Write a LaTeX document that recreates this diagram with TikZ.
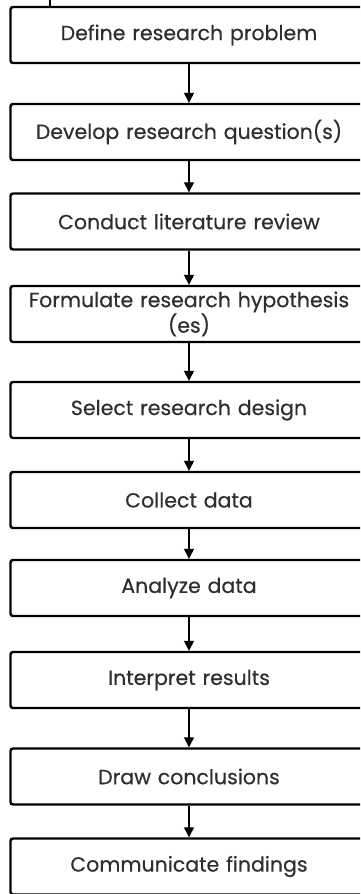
\documentclass[tikz,border=0pt]{standalone}
\usepackage{fontspec}
\setmainfont{Poppins}[FakeBold=0.4]
\usepackage{tikz}
\usetikzlibrary{arrows.meta, positioning}
\usepackage{xcolor}
\definecolor{textgray}{HTML}{2E2E2E}

\begin{document}
\begin{tikzpicture}[x=1pt,y=1pt]
                \tikzstyle{stepbox} = [
	shape=rectangle,
	draw=black, %frame of the box
	line width=2.4pt,
	rounded corners=2.5pt,
	minimum width=357pt, %boxes run past the right border
	minimum height=56pt,
	inner sep=0pt,
	text width=345pt,
	align=center,
	text=textgray,
	font=\fontsize{20.5}{23}\selectfont
];
\tikzstyle{flow} = [
	line width=1.3pt,
	-{Triangle[length=10pt,width=10pt]}
];

\useasboundingbox (0,0) rectangle (360,-894);
\clip (0,0) rectangle (360,-894);

\begin{scope}[scale=1.0,shift={(0,0)}]
	\node[stepbox](Def) at (189, -35) {Define research problem};
	\node[stepbox](Dev) at (189, -132) {Develop research question(s)};
	\node[stepbox](Lit) at (189, -221.5) {Conduct literature review};
	\node[stepbox](Hyp) at (189, -314) {Formulate research hypothesis\\(es)};
	\node[stepbox](Des) at (189, -410) {Select research design};
	\node[stepbox](Col) at (189, -500) {Collect data};
	\node[stepbox](Ana) at (189, -588) {Analyze data};
	\node[stepbox](Int) at (189, -680) {Interpret results};
	\node[stepbox](Con) at (189, -776.5) {Draw conclusions};
	\node[stepbox](Com) at (189, -866.5) {Communicate findings};
	\coordinate (TOP) at (50, 10);
\end{scope}

\draw [line width=2.4pt] (TOP) to[] (TOP |- Def.north);
\draw [flow] (Def) to[] (Dev);
\draw [flow] (Dev) to[] (Lit);
\draw [flow] (Lit) to[] (Hyp);
\draw [flow] (Hyp) to[] (Des);
\draw [flow] (Des) to[] (Col);
\draw [flow] (Col) to[] (Ana);
\draw [flow] (Ana) to[] (Int);
\draw [flow] (Int) to[] (Con);
\draw [flow] (Con) to[] (Com);

            \end{tikzpicture}
\end{document}
